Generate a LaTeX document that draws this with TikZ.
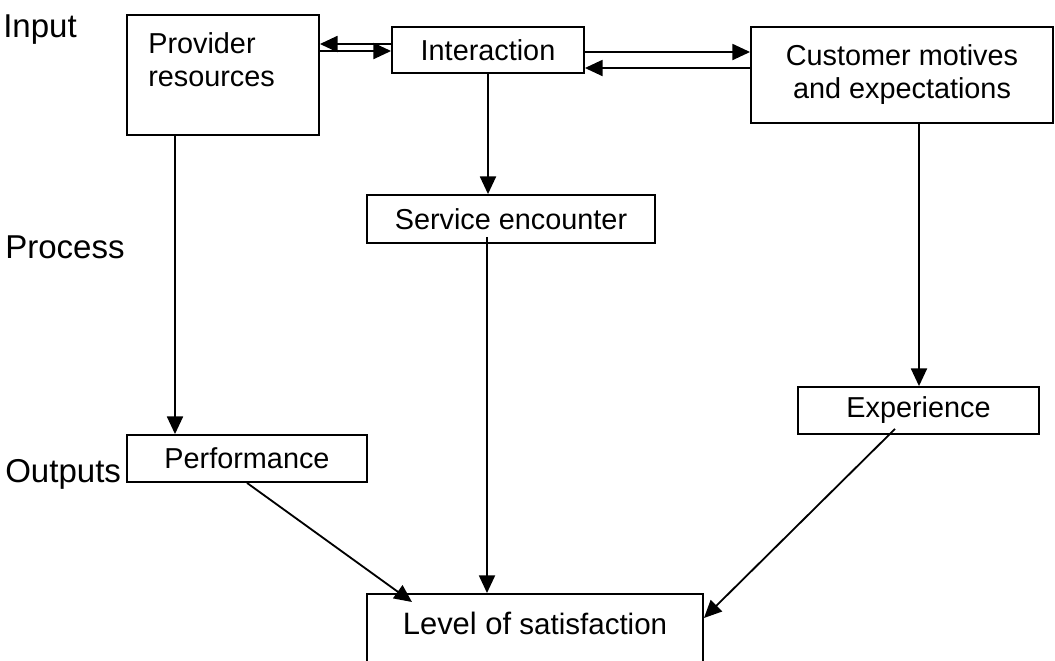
\documentclass[tikz,border=0pt]{standalone}
\usepackage{fontspec}
\setmainfont{Liberation Sans}
\usetikzlibrary{arrows.meta,calc}

\begin{document}
\begin{tikzpicture}[x=0.025cm,y=-0.025cm,
  box/.style={draw,line width=1.3pt,inner sep=0pt,font=\fontsize{20.5}{23.5}\selectfont,align=center},
  side/.style={anchor=base west,inner sep=0pt,font=\fontsize{23.5}{28}\selectfont},
  arr/.style={line width=1.3pt,-{Triangle[length=0.44cm,width=0.4cm]}}]
\path[use as bounding box,clip] (0,0) rectangle (1055,660);
% row labels
\node[side] (lin) at (3,37) {Input};
\node[side] (lpro) at (5,258) {Process};
\node[side] (lout) at (5,482) {Outputs};
% boxes
\node[box,minimum width=4.8cm,minimum height=3cm] (prov) at (223,75) {};
\node[anchor=north west,inner sep=0pt,align=left,font=\fontsize{20.5}{23.5}\selectfont] (provtxt) at (148,32) {Provider\\resources};
\node[box,minimum width=4.8cm,minimum height=1.15cm] (inter) at (488,50) {Interaction};
\node[box,minimum width=7.55cm,minimum height=2.4cm] (cust) at (902,75) {Customer motives\\and expectations};
\node[box,minimum width=7.2cm,minimum height=1.2cm] (serv) at (511,219) {Service encounter};
\node[box,minimum width=6cm,minimum height=1.175cm] (perf) at (247,458.5) {Performance};
\node[box,minimum width=6.025cm,minimum height=1.175cm] (exp) at (918.5,410.5) {Experience};
\node[box,minimum width=8.4cm,minimum height=2.2cm,anchor=north] (level) at (535,593) {};
\node[anchor=base,inner sep=0pt,font=\fontsize{21}{24}\selectfont] (leveltxt) at (535,634) {{\fontsize{22}{26}\selectfont Level of} satisfaction};
% connectors
\draw[arr] (inter.west |- 0,44) -- (prov.east |- 0,44);
\draw[arr] (prov.east |- 0,51) -- (inter.west |- 0,51);
\draw[arr] (inter.east |- 0,52) -- (cust.west |- 0,52);
\draw[arr] (cust.west |- 0,68) -- (inter.east |- 0,68);
\draw[arr] (inter.south) -- (inter.south |- serv.north);
\coordinate (p1) at ($(prov.south)+(-48,0)$);
\draw[arr] (p1) -- (p1 |- perf.north);
\coordinate (c1) at ($(cust.south)+(17,0)$);
\draw[arr] (c1) -- (c1 |- exp.north);
\coordinate (s1) at ($(serv.south)+(-24,-7)$);
\draw[arr] (s1) -- (s1 |- level.north);
\draw[arr] (perf.south) -- ($(level.north)+(-123,9)$);
\draw[arr] ($(exp.south)+(-23.5,-6)$) -- ($(level.north east)+(0,25)$);
\end{tikzpicture}
\end{document}
